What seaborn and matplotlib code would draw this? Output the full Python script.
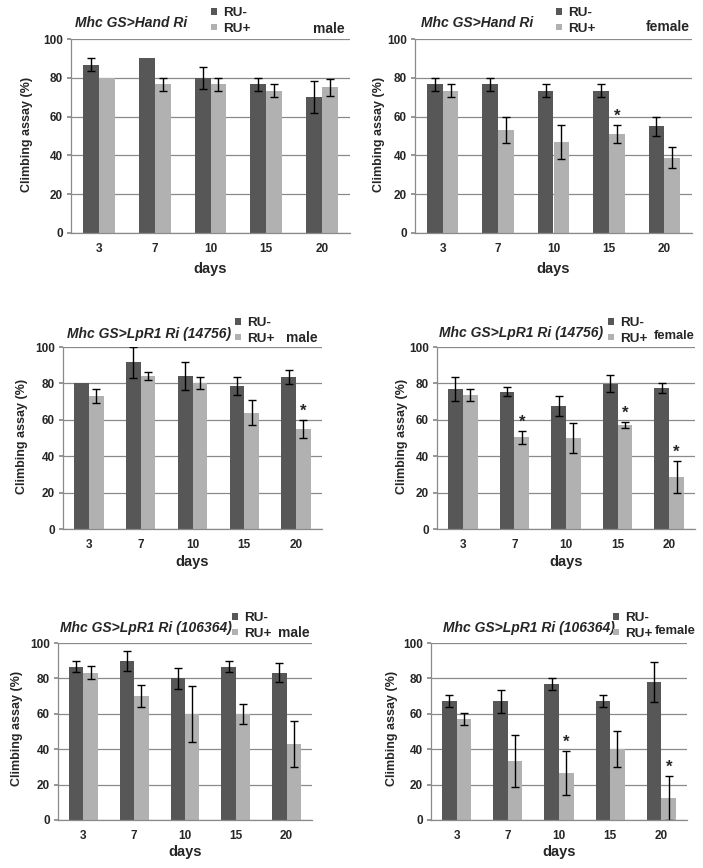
import numpy as np
import pandas as pd
import seaborn as sns
import matplotlib.pyplot as plt

days = ["3", "7", "10", "15", "20"]
groups = ["RU-", "RU+"]

# Mhc GS>Hand Ri, male
hand_m_minus = [86.7, 90.0, 80.0, 76.7, 70.0]
hand_m_minus_err = [3.3, 0.0, 5.7, 3.3, 8.3]
hand_m_plus = [80.0, 76.7, 76.7, 73.3, 75.0]
hand_m_plus_err = [0.0, 3.3, 3.3, 3.3, 4.5]

# Mhc GS>Hand Ri, female
hand_f_minus = [76.7, 76.7, 73.3, 73.3, 55.0]
hand_f_minus_err = [3.3, 3.3, 3.3, 3.3, 5.0]
hand_f_plus = [73.3, 53.3, 46.7, 51.1, 38.9]
hand_f_plus_err = [3.3, 6.7, 8.8, 4.5, 5.6]
hand_f_stars = ["15"]

# Mhc GS>LpR1 Ri (14756), male
lp14_m_minus = [80.0, 91.7, 84.2, 78.7, 83.5]
lp14_m_minus_err = [0.0, 8.5, 7.8, 4.8, 3.6]
lp14_m_plus = [73.2, 84.2, 80.0, 64.0, 55.0]
lp14_m_plus_err = [3.7, 2.3, 3.3, 7.1, 5.1]
lp14_m_stars = ["20"]

# Mhc GS>LpR1 Ri (14756), female
lp14_f_minus = [76.9, 75.5, 67.6, 79.9, 77.3]
lp14_f_minus_err = [6.7, 2.4, 5.3, 4.8, 2.7]
lp14_f_plus = [73.6, 50.4, 50.0, 57.3, 28.8]
lp14_f_plus_err = [3.4, 3.6, 8.4, 1.6, 8.8]
lp14_f_stars = ["7", "15", "20"]

# Mhc GS>LpR1 Ri (106364), male
lp10_m_minus = [86.7, 90.0, 80.0, 86.7, 83.3]
lp10_m_minus_err = [3.3, 5.6, 6.0, 3.3, 5.5]
lp10_m_plus = [83.3, 70.0, 60.0, 60.0, 43.0]
lp10_m_plus_err = [3.5, 6.1, 15.8, 5.6, 12.8]

# Mhc GS>LpR1 Ri (106364), female
lp10_f_minus = [67.0, 67.0, 77.0, 67.0, 78.0]
lp10_f_minus_err = [3.4, 6.6, 3.3, 3.4, 11.3]
lp10_f_plus = [57.0, 33.3, 26.7, 40.0, 12.5]
lp10_f_plus_err = [3.3, 14.5, 12.3, 10.1, 12.5]
lp10_f_stars = ["10", "20"]

DARK = "#575757"
LIGHT = "#b1b1b1"
GRID = "#8a8a8a"

W, H = 703, 868

sns.set_theme(style="white")
plt.rcParams["font.family"] = ["Liberation Sans", "DejaVu Sans"]

fig = plt.figure(figsize=(W / 100, H / 100), dpi=100)


def fx(x):
    return x / W


def fy(y):
    return 1 - y / H


# axes box (px), title pos, legend pos, sex label pos/size, ylabel pos, days y
panels = [
    dict(title="Mhc GS>Hand Ri", sex="male", box=(71, 39, 350, 233),
         minus=hand_m_minus, minus_err=hand_m_minus_err,
         plus=hand_m_plus, plus_err=hand_m_plus_err, stars=[],
         tpos=(75, 23), lpos=(204, 21), spos=(345, 29), ssize=10,
         ypos=(27, 134), dy=269),
    dict(title="Mhc GS>Hand Ri", sex="female", box=(415, 39, 692, 233),
         minus=hand_f_minus, minus_err=hand_f_minus_err,
         plus=hand_f_plus, plus_err=hand_f_plus_err, stars=hand_f_stars,
         tpos=(421, 23), lpos=(549, 21), spos=(690, 27), ssize=10,
         ypos=(379, 134), dy=269),
    dict(title="Mhc GS>LpR1 Ri (14756)", sex="male", box=(63, 347, 322, 529),
         minus=lp14_m_minus, minus_err=lp14_m_minus_err,
         plus=lp14_m_plus, plus_err=lp14_m_plus_err, stars=lp14_m_stars,
         tpos=(67, 334), lpos=(228, 331), spos=(318, 338), ssize=10,
         ypos=(22, 436), dy=562),
    dict(title="Mhc GS>LpR1 Ri (14756)", sex="female", box=(437, 347, 695, 529),
         minus=lp14_f_minus, minus_err=lp14_f_minus_err,
         plus=lp14_f_plus, plus_err=lp14_f_plus_err, stars=lp14_f_stars,
         tpos=(439, 333), lpos=(601, 331), spos=(695, 336), ssize=9.3,
         ypos=(402, 436), dy=562),
    dict(title="Mhc GS>LpR1 Ri (106364)", sex="male", box=(58, 643, 312, 820),
         minus=lp10_m_minus, minus_err=lp10_m_minus_err,
         plus=lp10_m_plus, plus_err=lp10_m_plus_err, stars=[],
         tpos=(60, 628), lpos=(225, 626), spos=(310, 633), ssize=10,
         ypos=(17, 728), dy=852),
    dict(title="Mhc GS>LpR1 Ri (106364)", sex="female", box=(431, 643, 687, 820),
         minus=lp10_f_minus, minus_err=lp10_f_minus_err,
         plus=lp10_f_plus, plus_err=lp10_f_plus_err, stars=lp10_f_stars,
         tpos=(443, 628), lpos=(606, 626), spos=(696, 631), ssize=9.3,
         ypos=(392, 728), dy=852),
]

for p in panels:
    x0, y0, x1, y1 = p["box"]
    ax = fig.add_axes([fx(x0), fy(y1), (x1 - x0) / W, (y1 - y0) / H])

    df = pd.DataFrame({
        "day": days * 2,
        "group": [groups[0]] * len(days) + [groups[1]] * len(days),
        "value": p["minus"] + p["plus"],
    })
    sns.barplot(data=df, x="day", y="value", hue="group", order=days,
                hue_order=groups, palette=[DARK, LIGHT], width=0.57,
                saturation=1, errorbar=None, gap=0, linewidth=0, ax=ax)

    # error bars (SEM given) on top of the seaborn bars
    for cont, errs, grp in zip(ax.containers, [p["minus_err"], p["plus_err"]], groups):
        xs = np.array([b.get_x() + b.get_width() / 2 for b in cont])
        hs = np.array([b.get_height() for b in cont])
        errs = np.array(errs)
        keep = errs > 0
        ax.errorbar(xs[keep], hs[keep], yerr=errs[keep], fmt="none",
                    ecolor="black", elinewidth=1, capsize=3, capthick=1)
        if grp == "RU+":
            for d in p["stars"]:
                i = days.index(d)
                ax.text(xs[i], hs[i] + errs[i] + 0.5, "*", ha="center",
                        va="bottom", fontsize=12, fontweight="bold")

    handles, labels = ax.get_legend_handles_labels()
    ax.get_legend().remove()
    lx, ly = p["lpos"]
    fig.legend(handles, labels, loc="center left", bbox_to_anchor=(fx(lx), fy(ly)),
               frameon=False, prop={"size": 9.7, "weight": "bold"}, borderpad=0,
               handlelength=0.5, handleheight=0.4, handletextpad=0.45,
               labelspacing=0.28)

    ax.set_ylim(0, 100)
    ax.set_xlim(-0.5, 4.5)
    ax.set_yticks(range(0, 101, 20))
    ax.set_xticks(np.arange(-0.5, 5, 1), minor=True)
    ax.set_axisbelow(True)
    ax.yaxis.grid(True, color=GRID, linewidth=0.9)
    ax.xaxis.grid(False)
    for side in ["top", "right"]:
        ax.spines[side].set_visible(False)
    for side in ["left", "bottom"]:
        ax.spines[side].set_color(GRID)
        ax.spines[side].set_linewidth(0.9)
    ax.tick_params(axis="x", which="major", length=0, pad=7, labelsize=8.5)
    ax.tick_params(axis="x", which="minor", length=4, color=GRID, direction="out")
    ax.tick_params(axis="y", length=3, color=GRID, pad=3, labelsize=8.5, left=True)
    for lab in ax.get_xticklabels() + ax.get_yticklabels():
        lab.set_fontweight("bold")
    ax.set_xlabel("")
    ax.set_ylabel("")

    tx, ty = p["tpos"]
    fig.text(fx(tx), fy(ty), p["title"], ha="left", va="center", fontsize=10,
             fontweight="bold", fontstyle="italic")
    sx, sy = p["spos"]
    fig.text(fx(sx), fy(sy), p["sex"], ha="right", va="center", fontsize=p["ssize"],
             fontweight="bold")
    yx, yy = p["ypos"]
    fig.text(fx(yx), fy(yy), "Climbing assay (%)", rotation=90, ha="center",
             va="center", fontsize=9, fontweight="bold")
    fig.text(fx((x0 + x1) / 2), fy(p["dy"]), "days", ha="center", va="center",
             fontsize=10.5, fontweight="bold")

fig.savefig("out.png", dpi=100)
